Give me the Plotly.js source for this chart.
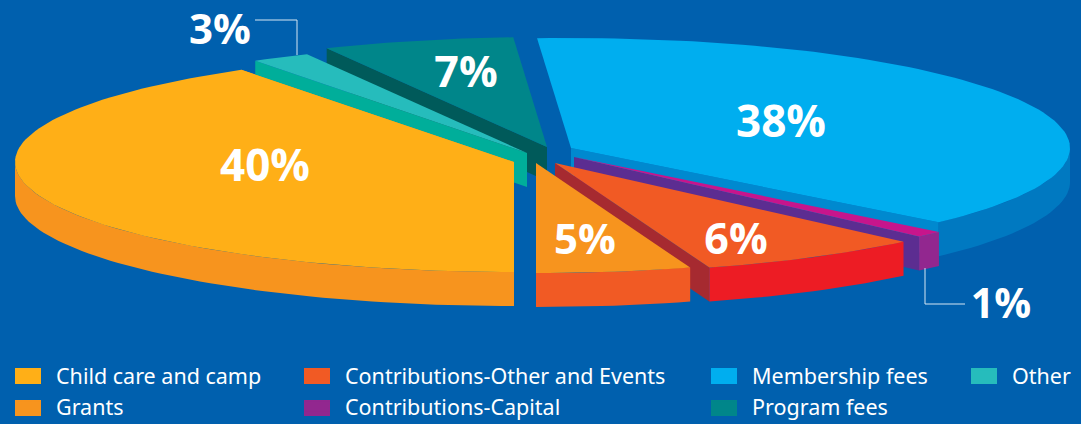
<!DOCTYPE html>
<html>
<head>
<meta charset="utf-8">
<script src="https://cdn.plot.ly/plotly-3.0.1.min.js"></script>
<style>html,body{margin:0;padding:0;background:#0060AE;overflow:hidden}</style>
</head>
<body>
<div id="chart" style="width:1081px;height:424px"></div>
<script>
// Categories and labelled values
const categories = ['Membership fees','Contributions-Capital','Contributions-Other and Events','Grants','Child care and camp','Other','Program fees'];
const values = [38,1,6,5,40,3,7];
// Wedge sizes as actually drawn in the artwork, percent of the circle
const drawnShare = [37.9,0.9,7.3,5.0,40.8,1.9,6.2];
const startDeg = [-3.9,133,135.7,162,180,327,333.8];
// Exploded wedge tips, canvas units
const tipX = [571,574,555,536,514,527,547];
const tipY = [148,157,163,163,162,153,147];
const labelX = [781,1001,736,585,265,220,466];
const labelY = [126,308,243,243,170,33,76];
const labelSize = [44,41,43,42,44,42,43];
// Colours
const topColor  = ['#00AEEF','#C7158C','#F15A24','#F7941E','#FFAF17','#26BCBC','#00868A'];
const wallColor = ['#0079C1','#92278F','#ED1C24','#F15A24','#F7941E','#00AE9A','#005A5A'];
const edgeColor = ['#0089CF','#5C2D91','#A62A30','#F15A24','#F7941E','#00AE9A','#005A5A'];
const legendColor = ['#00AEEF','#92278F','#F15A24','#F7941E','#FFAF17','#26BCBC','#00868A'];
// Painter's order, back to front
const drawOrder = [6,5,4,0,1,2,3];
// Legend columns (legend id per category) and row order
const legendIds = ['legend3','legend2','legend2','legend','legend','legend4','legend3'];
const legendOrder = [4,3,2,1,0,6,5];
const legendColX = [10,299,706,966];
const swatchX = [711,304,304,15,15,971,711];
const swatchRow = [0,1,0,1,0,0,1];
const leaderX = [[255,297,297],[925,925,965]];
const leaderY = [[20,20,55],[268,304,304]];

const RX = 499, RY = 110, DEPTH = 34, BG = '#0060AE';
const px = (i,d)=>tipX[i]+RX*Math.sin(d*Math.PI/180);
const py = (i,d)=>tipY[i]-RY*Math.cos(d*Math.PI/180);
function range(a,b){const o=[];const n=Math.max(2,Math.ceil(Math.abs(b-a)/1.5));for(let k=0;k<=n;k++)o.push(a+(b-a)*k/n);return o;}
function poly(xs,ys,color){
  return {type:'scatter',mode:'lines',x:xs,y:ys,fill:'toself',fillcolor:color,line:{width:0,color:color},hoverinfo:'skip',showlegend:false};
}
const traces = [];
drawOrder.forEach(i=>{
  const a = startDeg[i], b = a + drawnShare[i]*3.6;
  // radial wall facing the viewer, from tip to the rim point
  const e = a>270 ? a : b;
  traces.push(poly([tipX[i],px(i,e),px(i,e),tipX[i]],[tipY[i],py(i,e),py(i,e)+DEPTH,tipY[i]+DEPTH],edgeColor[i]));
  // outer rim wall, visible on the front half only
  const wa = Math.max(a,90), wb = Math.min(b,270);
  if (wb>wa){
    const arc = range(wa,wb);
    traces.push(poly(arc.map(d=>px(i,d)).concat(arc.slice().reverse().map(d=>px(i,d))),
                     arc.map(d=>py(i,d)).concat(arc.slice().reverse().map(d=>py(i,d)+DEPTH)),wallColor[i]));
  }
  // top face
  const arc = range(a,b);
  traces.push(poly([tipX[i]].concat(arc.map(d=>px(i,d))),[tipY[i]].concat(arc.map(d=>py(i,d))),topColor[i]));
});
// Leader lines
leaderX.forEach((xs,k)=>traces.push({type:'scatter',mode:'lines',x:xs,y:leaderY[k],line:{color:'#D5E6F3',width:1},hoverinfo:'skip',showlegend:false}));
// Percent labels
traces.push({type:'scatter',mode:'text',x:labelX,y:labelY,text:values.map(v=>v+'%'),textposition:'middle center',
  textfont:{family:'"Open Sans"',size:labelSize,color:'#FFFFFF',weight:700},hoverinfo:'skip',showlegend:false});
// Legend entries
legendOrder.forEach(i=>traces.push({type:'scatter',mode:'lines',x:[null],y:[null],name:categories[i],legendgroup:categories[i],
  line:{color:legendColor[i],width:16,dash:'26px,200px'},legend:legendIds[i],showlegend:true,hoverinfo:'skip'}));
// Full-height key blocks behind the legend keys
const shapes = categories.map((c,i)=>({type:'rect',xref:'x',yref:'y',x0:swatchX[i],x1:swatchX[i]+26,
  y0:368+32*swatchRow[i],y1:384+32*swatchRow[i],fillcolor:legendColor[i],line:{width:0},layer:'below'}));

const lg = k=>({x:legendColX[k]/1081,xanchor:'left',y:(424-355)/424,yanchor:'top',bgcolor:'rgba(0,0,0,0)',borderwidth:0,
  itemwidth:36,font:{family:'Noto Sans',size:21.5,color:'#FFFFFF'},orientation:'v',itemclick:false,itemdoubleclick:false,traceorder:'normal',tracegroupgap:1});
Plotly.newPlot('chart',traces,{
  width:1081,height:424,margin:{l:0,r:0,t:0,b:0,autoexpand:false},
  paper_bgcolor:BG,plot_bgcolor:BG,showlegend:true,shapes:shapes,
  xaxis:{range:[0,1081],visible:false,fixedrange:true},
  yaxis:{range:[424,0],visible:false,fixedrange:true},
  legend:lg(0),legend2:lg(1),legend3:lg(2),legend4:lg(3)
},{staticPlot:true,displayModeBar:false});
</script>
</body>
</html>
